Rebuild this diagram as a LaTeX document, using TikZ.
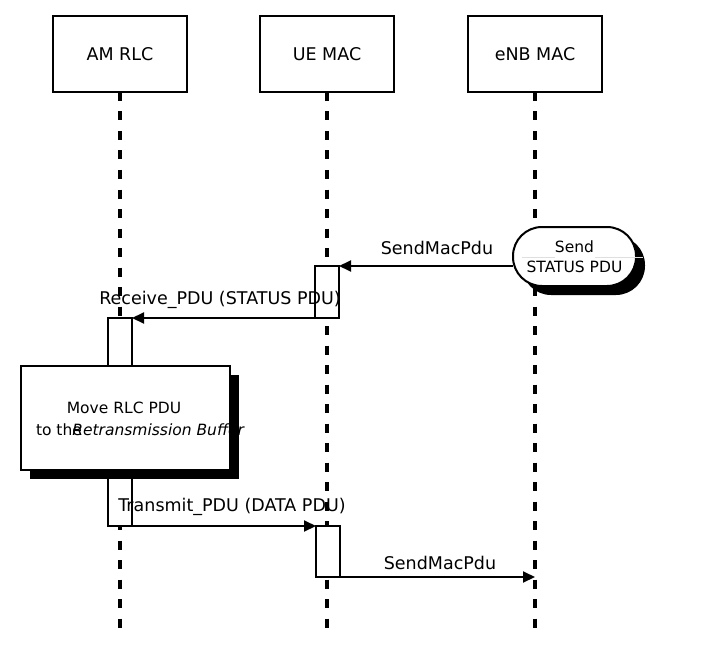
\documentclass[tikz,border=0pt]{standalone}
\usepackage{fontspec}
\setmainfont{DejaVu Sans}
\usetikzlibrary{shadows,calc,positioning}
\usetikzlibrary{arrows.meta}
\tikzset{>={Triangle[width=11pt,length=12pt]}}

\begin{document}
\begin{tikzpicture}[
		x=1pt,y=-1pt,
		line width=2pt,
		every node/.style={font=\fontsize{17.5}{21}\selectfont},
		entity/.style={draw,minimum width=134pt,minimum height=76pt,inner sep=0pt,outer sep=0pt},
		lifeline/.style={line width=3.5pt,dash pattern=on 9pt off 10.5pt},
		actbar/.style={draw,fill=white,minimum width=24pt,inner sep=0pt,outer sep=0pt,anchor=north},
		small/.style={font=\fontsize{15.5}{20}\selectfont},
		blackshadow/.style={drop shadow={shadow xshift=9pt,shadow yshift=-9pt,fill=black,opacity=1}},
	]
	\useasboundingbox (0,0) rectangle (706,647);

	% entities and lifelines
	\node[entity] (am-rlc) at (120,54) {AM RLC};
	\node[entity] (ue-mac) at (327,54) {UE MAC};
	\node[entity] (enb-mac) at (535,54) {eNB MAC};

	\coordinate (bottom) at (0,637);
	\foreach \e in {am-rlc,ue-mac,enb-mac}{
			\draw[lifeline] (\e.south) -- (\e.south |- bottom);
		}

	% activation bars
	\node[actbar,minimum height=52pt] (ue-bar1) at ($(ue-mac.south)+(0,174)$) {};
	\node[actbar,minimum height=208pt] (am-bar) at ($(am-rlc.south)+(0,226)$) {};
	\node[actbar,minimum height=51pt] (ue-bar2) at ($(ue-mac.south)+(1,434)$) {};

	% status pdu from eNB
	\node[draw,fill=white,rounded corners=29pt,minimum width=123pt,minimum height=59pt,outer sep=0pt,
		blackshadow,small,align=center] (send) at (574.5,256.5) {Send\\STATUS PDU};
	\draw[gray!25,line width=0.8pt] ($(send.west)+(9,0.5)$) -- ($(send.west)+(42,0.5)$);
	\draw[gray!25,line width=0.8pt] ($(send.west)+(82,0.5)$) -- ($(send.east)+(7,0.5)$);

	\draw[->] (ue-bar1.north east -| send.west) -- (ue-bar1.north east);
	\node[anchor=base] (lbl-send1) at (437,254) {SendMacPdu};

	\draw[->] (ue-bar1.south east) -- (am-bar.north east);
	\node[anchor=base] (lbl-receive) at (220,304) {Receive\_PDU (STATUS PDU)};

	% retransmission buffer
	\node[draw,fill=white,minimum width=209pt,minimum height=104pt,inner sep=0pt,blackshadow] (move) at (125.5,418) {};
	\node[small,anchor=base] (move-l1) at (124,413) {Move RLC PDU};
	\node[small,anchor=base west,inner sep=0pt] (move-l2) at (35,435) {to the\hspace{-0.62em}\textit{Retransmission Buffer}};

	% data pdu
	\draw[->] (am-bar.south west) -- (ue-bar2.north west);
	\node[anchor=base] (lbl-transmit) at (232,511) {Transmit\_PDU (DATA PDU)};

	\draw[->] (ue-bar2.south west) -- (ue-bar2.south west -| enb-mac.south);
	\node[anchor=base] (lbl-send2) at (440,569) {SendMacPdu};

\end{tikzpicture}
\end{document}
